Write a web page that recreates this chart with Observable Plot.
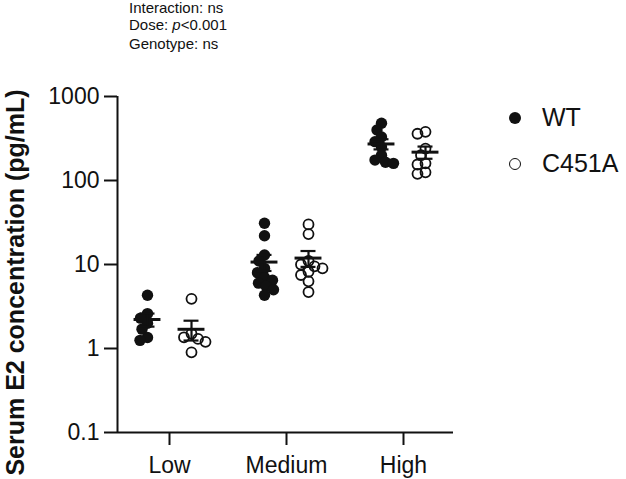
<!DOCTYPE html>
<html>
<head>
<meta charset="utf-8">
<script src="https://cdn.jsdelivr.net/npm/d3@7"></script>
<script src="https://cdn.jsdelivr.net/npm/@observablehq/plot@0.6"></script>
<style>
  body { margin: 0; background: #fff; }
  #wrap { position: relative; width: 626px; height: 479px; font-family: "Liberation Sans", Arial, sans-serif; color: #111; }
  #wrap svg { position: absolute; left: 0; top: 0; }
  .note { position: absolute; left: 129px; font-size: 15px; line-height: 15px; white-space: nowrap; }
  .leg { position: absolute; left: 542px; font-size: 25px; line-height: 25px; white-space: nowrap; }
  .sw { position: absolute; border-radius: 50%; box-sizing: border-box; }
</style>
</head>
<body>
<div id="wrap">
  <div class="note" style="top:0px">Interaction: ns</div>
  <div class="note" style="top:17px">Dose: <i>p</i>&lt;0.001</div>
  <div class="note" style="top:36px">Genotype: ns</div>
  <div class="sw" style="left:509px;top:112px;width:12px;height:12px;background:#111"></div>
  <div class="leg" style="top:105px">WT</div>
  <div class="sw" style="left:509px;top:158px;width:12px;height:12px;border:1.8px solid #111"></div>
  <div class="leg" style="top:151px">C451A</div>
</div>
<script>
const doses = ["Low", "Medium", "High"];
const genotypes = ["WT", "C451A"];
const yTicks = [0.1, 1, 10, 100, 1000];
const yLabel = "Serum E2 concentration (pg/mL)";

// Serum E2 (pg/mL)
const wtLow = [4.3, 2.6, 2.3, 2.0, 1.7, 1.35, 1.25];
const wtMedium = [31, 22, 13, 11, 9, 8, 7, 6.5, 6, 5.5, 5, 4.3];
const wtHigh = [480, 400, 330, 290, 250, 200, 175, 165, 160];
const mutLow = [3.9, 1.5, 1.36, 1.3, 1.2, 0.9];
const mutMedium = [30, 23, 11, 10, 9.5, 9, 8.2, 7.5, 6.3, 4.7];
const mutHigh = [380, 360, 240, 200, 160, 155, 125, 120];

const groups = [
  {dose: 0, g: 0, vals: wtLow}, {dose: 0, g: 1, vals: mutLow},
  {dose: 1, g: 0, vals: wtMedium}, {dose: 1, g: 1, vals: mutMedium},
  {dose: 2, g: 0, vals: wtHigh}, {dose: 2, g: 1, vals: mutHigh}
];

const W = 626, H = 479, mL = 117, mR = 173, mT = 96, mB = 47;
const step = 117; // px per dose unit
const x0 = -52 / step, x1 = 2 + 50 / step;
const gOff = 22 / step;
const yPix = d3.scaleLog().domain([0.1, 1000]).range([H - mB, mT]);

function swarm(vals, minDist) {
  const placed = [];
  return vals.map(v => {
    const y = yPix(v);
    let off = 0;
    for (let k = 0; k < 400; k++) {
      const c = k === 0 ? 0 : (k % 2 ? -1 : 1) * Math.ceil(k / 2) * 0.5;
      if (placed.every(p => Math.hypot(p.x - c, p.y - y) >= minDist)) { off = c; break; }
    }
    placed.push({x: off, y});
    return off;
  });
}

const points = [];
const stats = [];
for (const grp of groups) {
  const center = grp.dose + (grp.g === 0 ? -gOff : gOff);
  const offs = swarm(grp.vals, 8);
  grp.vals.forEach((v, i) => points.push({genotype: genotypes[grp.g], dose: doses[grp.dose], value: v, x: center + offs[i] / step}));
  const m = d3.mean(grp.vals);
  const sem = d3.deviation(grp.vals) / Math.sqrt(grp.vals.length);
  stats.push({x: center, mean: m, lo: m - sem, hi: m + sem});
}

const ink = "#111";
const chart = Plot.plot({
  width: W, height: H,
  marginLeft: mL, marginRight: mR, marginTop: mT, marginBottom: mB,
  style: {fontFamily: "Liberation Sans, Arial, sans-serif", color: ink, background: "transparent"},
  x: {type: "linear", domain: [x0, x1]},
  y: {type: "log", domain: [0.1, 1000]},
  marks: [
    Plot.axisY({ticks: yTicks, tickFormat: d => String(d), tickSize: 13, tickPadding: 5, fontSize: 23, strokeWidth: 2, label: null}),
    Plot.axisX({ticks: [0, 1, 2], tickFormat: i => doses[i], tickSize: 13, tickPadding: 11, fontSize: 23, strokeWidth: 2, label: null}),
    Plot.ruleX([x0], {stroke: ink, strokeWidth: 2}),
    Plot.ruleY([0.1], {stroke: ink, strokeWidth: 2}),
    Plot.text([yLabel], {frameAnchor: "left", textAnchor: "middle", rotate: -90, dx: -102, dy: 18, fontSize: 25, fontWeight: "bold", fill: ink}),
    Plot.dot(points.filter(d => d.genotype === "WT"), {x: "x", y: "value", r: 5.7, fill: ink, stroke: "none"}),
    Plot.dot(points.filter(d => d.genotype === "C451A"), {x: "x", y: "value", r: 5, fill: "none", stroke: ink, strokeWidth: 1.8}),
    Plot.ruleY(stats, {x1: d => d.x - 0.115, x2: d => d.x + 0.115, y: "mean", stroke: ink, strokeWidth: 3}),
    Plot.ruleX(stats, {x: "x", y1: "lo", y2: "hi", stroke: ink, strokeWidth: 2.2}),
    Plot.ruleY(stats, {x1: d => d.x - 0.064, x2: d => d.x + 0.064, y: "hi", stroke: ink, strokeWidth: 2.2}),
    Plot.ruleY(stats, {x1: d => d.x - 0.064, x2: d => d.x + 0.064, y: "lo", stroke: ink, strokeWidth: 2.2})
  ]
});
document.getElementById("wrap").prepend(chart);
</script>
</body>
</html>
